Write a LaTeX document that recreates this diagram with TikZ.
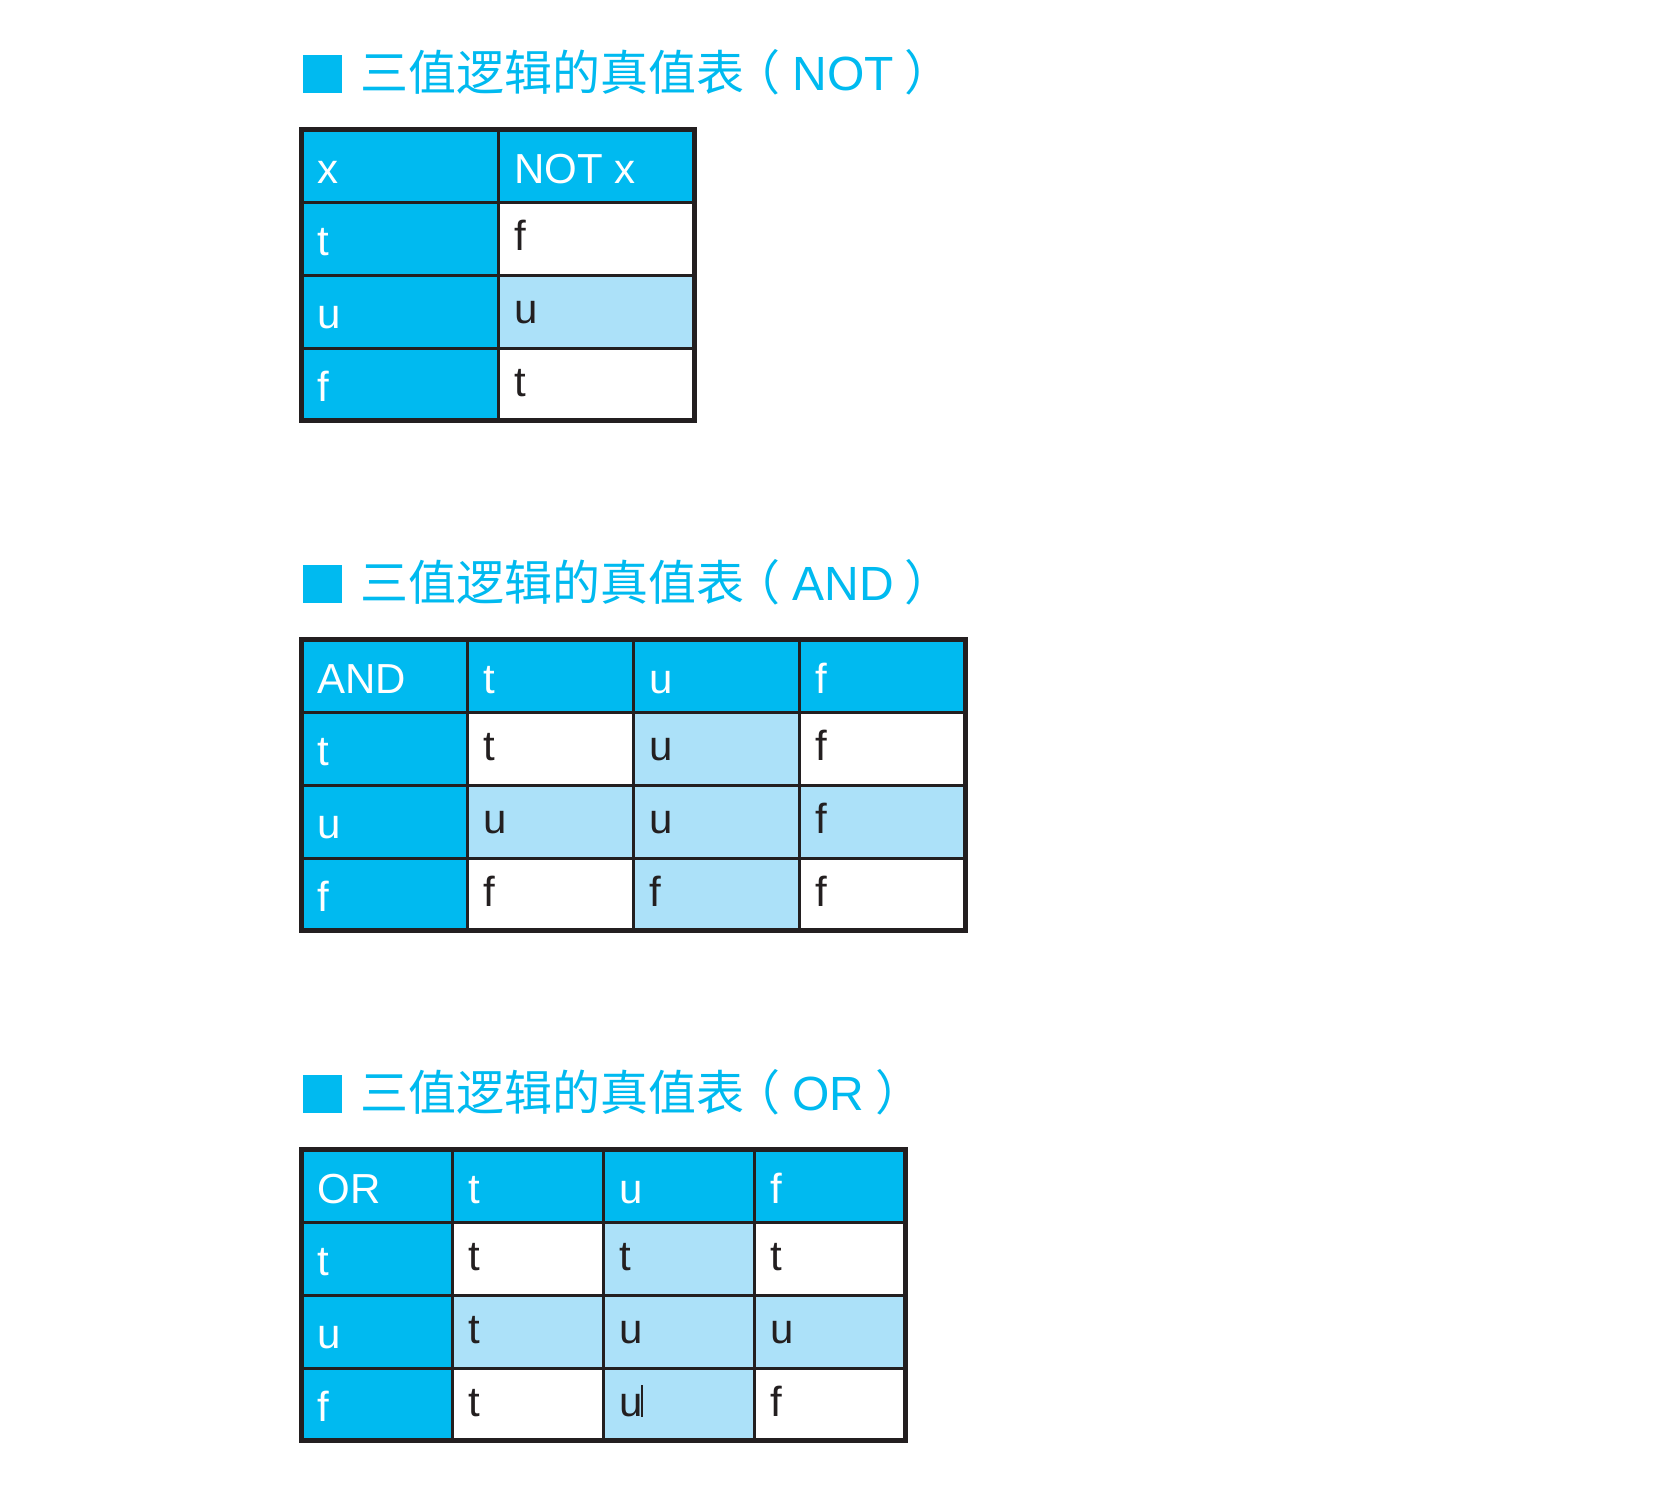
\documentclass[tikz,border=0pt]{standalone}
\usepackage{fontspec}
\setmainfont{Liberation Sans}
\newfontfamily\cjk{Noto Sans CJK SC}
\definecolor{hdr}{RGB}{0,186,240}
\definecolor{lite}{RGB}{172,225,249}
\definecolor{ink}{RGB}{35,31,32}
\newcommand{\ttltext}[1]{{\cjk 三值逻辑的真值表\kern-6pt（\kern6pt}#1{\cjk\ ）}}
\tikzset{
  hd/.style={anchor=base west, inner sep=0pt, font=\fontsize{21}{21}\selectfont, text=white},
  dt/.style={anchor=base west, inner sep=0pt, font=\fontsize{21}{21}\selectfont, text=ink},
  ttl/.style={anchor=base west, inner sep=0pt, font=\fontsize{24}{24}\selectfont, text=hdr},
  gridline/.style={draw=ink, line width=1.5pt},
  outerline/.style={draw=ink, line width=2.5pt},
}
\begin{document}
\begin{tikzpicture}[x=0.5pt, y=-0.5pt]
\useasboundingbox (0,0) rectangle (1667,1496);
% ---------------- NOT ----------------
\fill[hdr] (303,55) rectangle (342,93);
\node[ttl] (tnot) at (360,90) {\ttltext{NOT}};
\fill[hdr] (299,127) rectangle (697,202);
\fill[hdr] (299,127) rectangle (498,423);
\fill[lite] (498,275) rectangle (697,348);
\foreach \y in {202,275,348} \draw[gridline] (299,\y) -- (697,\y);
\draw[gridline] (498,127) -- (498,423);
\draw[outerline] (301.5,129.5) rectangle (694.5,420.5);
\node[hd] (n00) at (317,183) {x};
\node[hd] (n01) at (514,183) {NOT x};
\node[hd] (n10) at (317,255) {t};
\node[hd] (n20) at (317,328) {u};
\node[hd] (n30) at (317,401) {f};
\node[dt] (n11) at (514,250) {f};
\node[dt] (n21) at (514,323) {u};
\node[dt] (n31) at (514,396) {t};
% ---------------- AND ----------------
\fill[hdr] (303,565) rectangle (342,603);
\node[ttl] (tand) at (360,600) {\ttltext{AND}};
\fill[hdr] (299,637) rectangle (968,712);
\fill[hdr] (299,637) rectangle (467,933);
\fill[lite] (633,712) rectangle (799,933);
\fill[lite] (467,785) rectangle (968,858);
\foreach \y in {712,785,858} \draw[gridline] (299,\y) -- (968,\y);
\foreach \x in {467,633,799} \draw[gridline] (\x,637) -- (\x,933);
\draw[outerline] (301.5,639.5) rectangle (965.5,930.5);
\node[hd] (a00) at (317,693) {AND};
\node[hd] (a01) at (483,693) {t};
\node[hd] (a02) at (649,693) {u};
\node[hd] (a03) at (815,693) {f};
\node[hd] (a10) at (317,765) {t};
\node[hd] (a20) at (317,838) {u};
\node[hd] (a30) at (317,911) {f};
\node[dt] (a11) at (483,760) {t};
\node[dt] (a12) at (649,760) {u};
\node[dt] (a13) at (815,760) {f};
\node[dt] (a21) at (483,833) {u};
\node[dt] (a22) at (649,833) {u};
\node[dt] (a23) at (815,833) {f};
\node[dt] (a31) at (483,906) {f};
\node[dt] (a32) at (649,906) {f};
\node[dt] (a33) at (815,906) {f};
% ---------------- OR ----------------
\fill[hdr] (303,1075) rectangle (342,1113);
\node[ttl] (tor) at (360,1110) {\ttltext{OR}};
\fill[hdr] (299,1147) rectangle (908,1222);
\fill[hdr] (299,1147) rectangle (452,1443);
\fill[lite] (603,1222) rectangle (754,1443);
\fill[lite] (452,1295) rectangle (908,1368);
\foreach \y in {1222,1295,1368} \draw[gridline] (299,\y) -- (908,\y);
\foreach \x in {452,603,754} \draw[gridline] (\x,1147) -- (\x,1443);
\draw[outerline] (301.5,1149.5) rectangle (905.5,1440.5);
\node[hd] (o00) at (317,1203) {OR};
\node[hd] (o01) at (468,1203) {t};
\node[hd] (o02) at (619,1203) {u};
\node[hd] (o03) at (770,1203) {f};
\node[hd] (o10) at (317,1275) {t};
\node[hd] (o20) at (317,1348) {u};
\node[hd] (o30) at (317,1421) {f};
\node[dt] (o11) at (468,1270) {t};
\node[dt] (o12) at (619,1270) {t};
\node[dt] (o13) at (770,1270) {t};
\node[dt] (o21) at (468,1343) {t};
\node[dt] (o22) at (619,1343) {u};
\node[dt] (o23) at (770,1343) {u};
\node[dt] (o31) at (468,1416) {t};
\node[dt] (o32) at (619,1416) {u};
\node[dt] (o33) at (770,1416) {f};
\draw[ink, line width=0.6pt] (642,1385) -- (642,1417);
\end{tikzpicture}
\end{document}
